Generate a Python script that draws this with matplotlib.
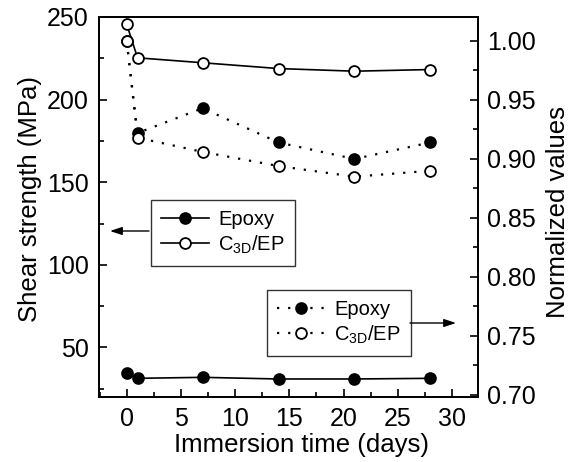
import matplotlib
matplotlib.use("Agg")
import matplotlib.pyplot as plt
from matplotlib.ticker import MultipleLocator

plt.rcParams['font.family'] = ['Liberation Sans', 'DejaVu Sans']
plt.rcParams['mathtext.fontset'] = 'custom'
plt.rcParams['mathtext.rm'] = 'Liberation Sans'
plt.rcParams['mathtext.it'] = 'Liberation Sans'

# Data
days = [0, 1, 7, 14, 21, 28]
epoxy_strength = [34.3, 31.3, 31.9, 30.9, 30.9, 31.3]
c3d_strength = [245.6, 225.3, 222.3, 218.8, 217.2, 218.2]
epoxy_norm = [1.000, 0.922, 0.943, 0.914, 0.900, 0.914]
c3d_norm = [1.000, 0.918, 0.906, 0.894, 0.885, 0.890]
label_epoxy = "Epoxy"
label_c3d = r"C$_{\mathrm{3D}}$/EP"

W, H = 578, 462
fig = plt.figure(figsize=(W / 100, H / 100), dpi=100)
ax = fig.add_axes([98.5 / W, 1 - 397 / H, (477.5 - 98.5) / W, (397 - 17) / H])
ax2 = ax.twinx()

ms = 7.8
mew = 1.3
lw = 1.2
dot = (0, (1, 4))

l1, = ax.plot(days, epoxy_strength, '-', color='black', lw=lw, marker='o', ms=ms,
              mfc='black', mec='black', mew=mew)
l2, = ax.plot(days, c3d_strength, '-', color='black', lw=lw, marker='o', ms=ms,
              mfc='white', mec='black', mew=mew)
l3, = ax2.plot(days, epoxy_norm, linestyle=dot, color='black', lw=1.6, marker='o', ms=ms,
               mfc='black', mec='black', mew=mew)
l4, = ax2.plot(days, c3d_norm, linestyle=dot, color='black', lw=1.6, marker='o', ms=ms,
               mfc='white', mec='black', mew=mew)

ax.set_xlim(-2.6, 32.35)
ax.set_ylim(20, 250)
ax2.set_ylim(0.6983, 1.0203)

ax.xaxis.set_major_locator(MultipleLocator(5))
ax.xaxis.set_minor_locator(MultipleLocator(2.5))
ax.yaxis.set_major_locator(MultipleLocator(50))
ax.yaxis.set_minor_locator(MultipleLocator(25))
ax2.yaxis.set_major_locator(MultipleLocator(0.05))
ax2.yaxis.set_minor_locator(MultipleLocator(0.025))
ax2.yaxis.set_major_formatter(plt.FormatStrFormatter('%.2f'))

for a in (ax, ax2):
    for s in a.spines.values():
        s.set_linewidth(1.3)
ax.tick_params(axis='x', which='both', direction='in', top=False, labelsize=18, pad=7.5)
ax.tick_params(axis='y', which='both', direction='in', right=False, labelsize=18, pad=7)
ax.tick_params(which='major', length=6, width=1.2)
ax.tick_params(which='minor', length=3.5, width=1.2)
ax2.tick_params(axis='y', which='both', direction='in', labelsize=18, pad=7)
ax2.tick_params(which='major', length=6, width=1.2)
ax2.tick_params(which='minor', length=3.5, width=1.2)

AXW, AXH = 379.0, 380.0
ax.set_xlabel("Immersion time (days)", fontsize=18.5)
ax.set_ylabel("Shear strength (MPa)", fontsize=18.5)
ax2.set_ylabel("Normalized values", fontsize=18.5)
ax.xaxis.set_label_coords((302 - 98.5) / AXW, -(433 - 397) / AXH)
ax.yaxis.set_label_coords(-(98.5 - 42) / AXW, (397 - 199) / AXH)
ax2.yaxis.set_label_coords(1 + (546 - 477.5) / AXW, (397 - 212) / AXH)

leg_kw = dict(loc='upper left', fontsize=14.5, frameon=True, fancybox=False,
              edgecolor='black', borderaxespad=0, borderpad=0.5,
              handlelength=2.4, handletextpad=0.45, labelspacing=0.22,
              bbox_transform=fig.transFigure)
leg1 = ax2.legend([l1, l2], [label_epoxy, label_c3d],
                  bbox_to_anchor=(151 / W, 1 - 200 / H), **leg_kw)
leg1.get_frame().set_linewidth(1.0)
ax2.add_artist(leg1)
leg2 = ax2.legend([l3, l4], [label_epoxy, label_c3d],
                  bbox_to_anchor=(267 / W, 1 - 290 / H), **leg_kw)
leg2.get_frame().set_linewidth(1.0)

arrow_kw = dict(arrowstyle='-|>,head_length=0.6,head_width=0.2', color='black', lw=1.0,
                mutation_scale=12, shrinkA=0, shrinkB=0)
fig.add_artist(matplotlib.patches.FancyArrowPatch(
    (149 / W, 1 - 231 / H), (110 / W, 1 - 231 / H), transform=fig.transFigure, **arrow_kw))
fig.add_artist(matplotlib.patches.FancyArrowPatch(
    (410 / W, 1 - 323 / H), (456 / W, 1 - 323 / H), transform=fig.transFigure, **arrow_kw))

fig.savefig("out.png", dpi=100)
